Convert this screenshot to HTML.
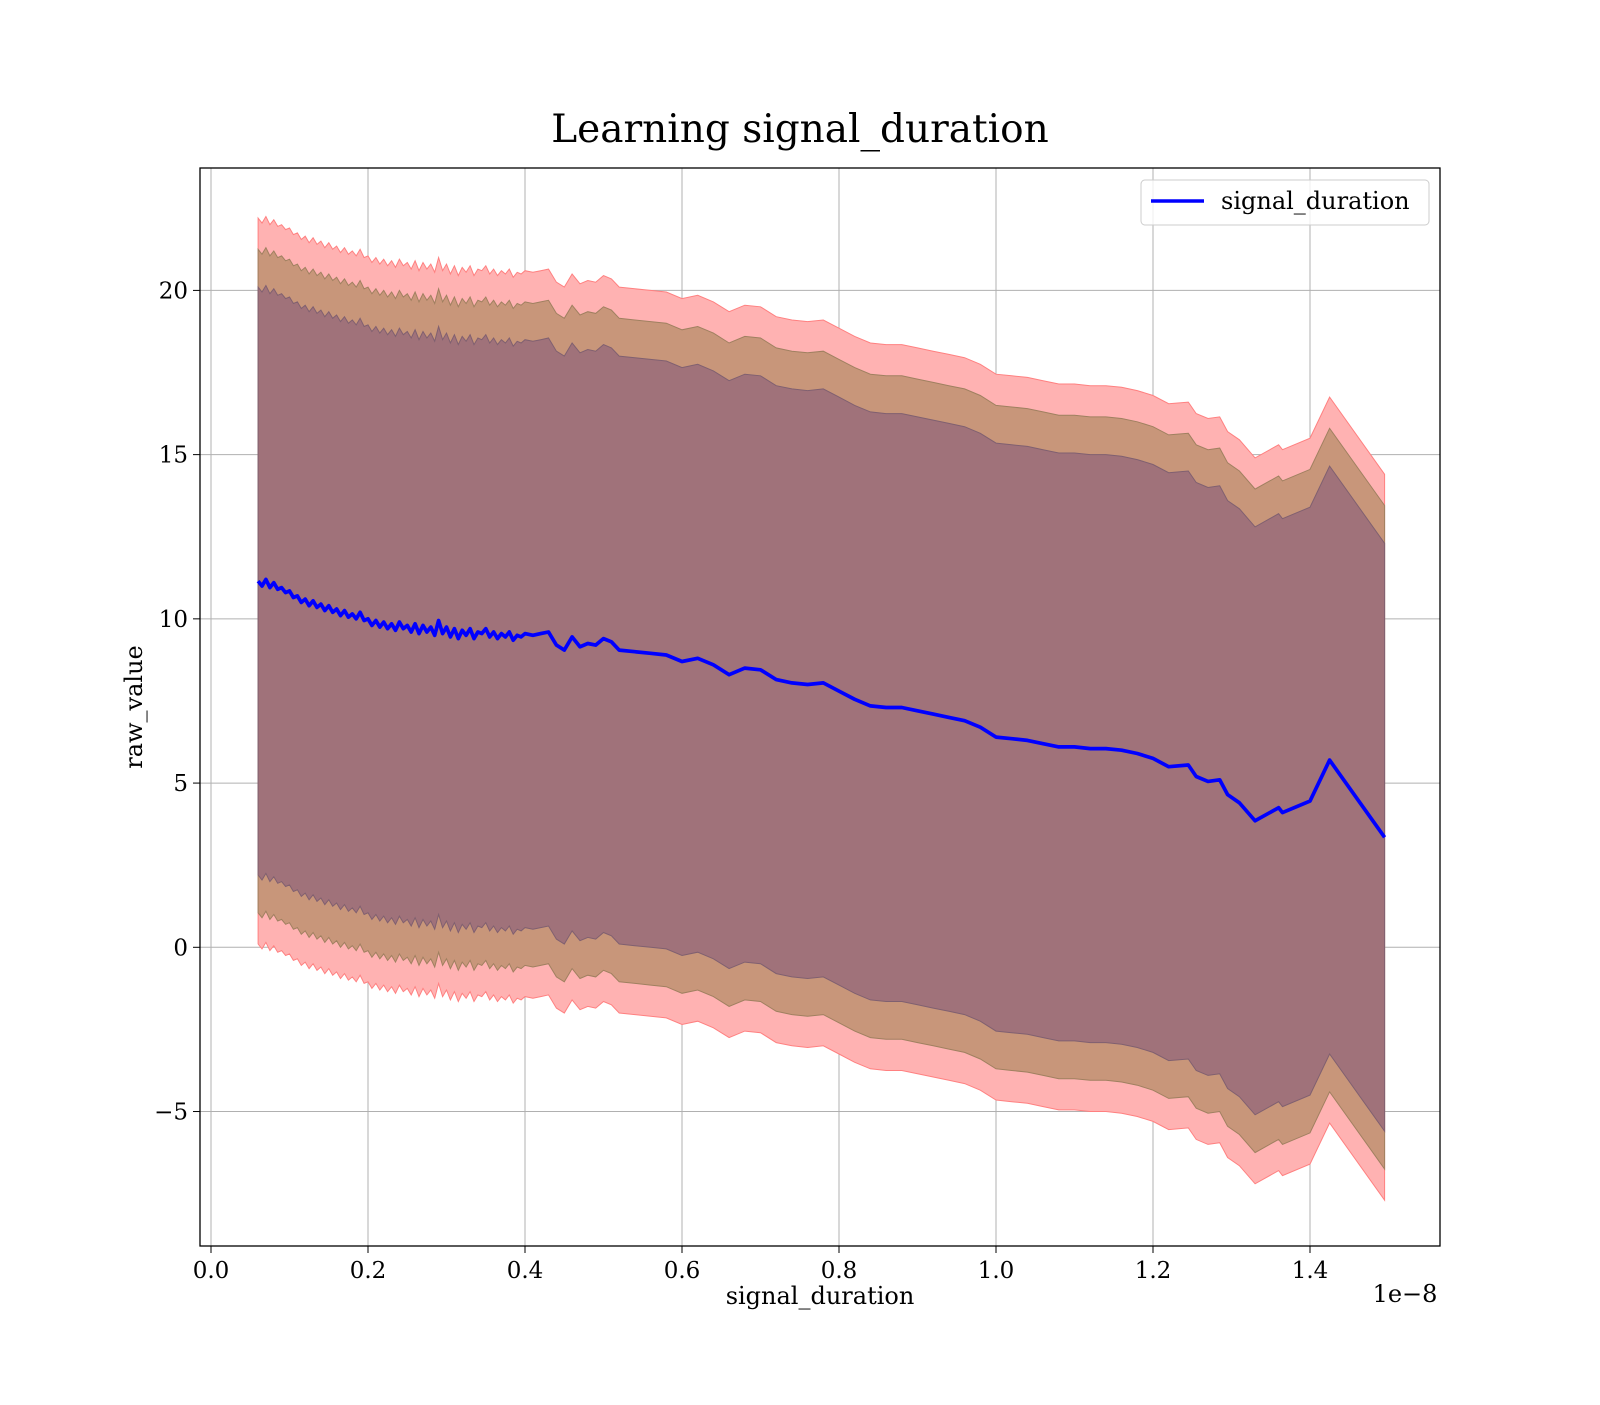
<!DOCTYPE html>
<html><head><meta charset="utf-8"><style>
html,body{margin:0;padding:0;background:#fff;}
svg text{font-family:"DejaVu Serif","Liberation Serif",serif;fill:#000;}
</style></head><body>
<svg width="1600" height="1400" viewBox="0 0 1600 1400" xmlns="http://www.w3.org/2000/svg">
<rect width="1600" height="1400" fill="#fff"/>
<text x="800" y="142" font-size="39" text-anchor="middle">Learning signal_duration</text>
<g id="grid"></g>
<g id="bands"></g>
<g id="lineg"></g>
<rect x="200" y="168" width="1240" height="1078" fill="none" stroke="#000" stroke-width="1.3"/>
<g id="ticks"></g>
<text x="820" y="1304" font-size="24" text-anchor="middle">signal_duration</text>
<text x="1405" y="1302" font-size="24" text-anchor="middle">1e−8</text>
<text transform="translate(142,707) rotate(-90)" font-size="24" text-anchor="middle">raw_value</text>
<g>
<rect x="1141" y="180" width="288" height="45" rx="4" fill="#fff" fill-opacity="0.8" stroke="#ccc"/>
<line x1="1151" y1="201" x2="1204" y2="201" stroke="#0000ff" stroke-width="3.5"/>
<text x="1221" y="209" font-size="24">signal_duration</text>
</g>
</svg>
<script>
const xs=[0.06,0.065,0.07,0.075,0.08,0.085,0.09,0.095,0.10,0.105,0.11,0.115,0.12,0.125,0.13,0.135,0.14,0.145,0.15,0.155,0.16,0.165,0.17,0.175,0.18,0.185,0.19,0.195,0.20,0.205,0.21,0.215,0.22,0.225,0.23,0.235,0.24,0.245,0.25,0.255,0.26,0.265,0.27,0.275,0.28,0.285,0.29,0.295,0.30,0.305,0.31,0.315,0.32,0.325,0.33,0.335,0.34,0.345,0.35,0.355,0.36,0.365,0.37,0.375,0.38,0.385,0.39,0.395,0.40,0.41,0.42,0.43,0.44,0.45,0.46,0.47,0.48,0.49,0.50,0.51,0.52,0.54,0.56,0.58,0.60,0.62,0.64,0.66,0.68,0.70,0.72,0.74,0.76,0.78,0.80,0.82,0.84,0.86,0.88,0.90,0.92,0.94,0.96,0.98,1.00,1.02,1.04,1.06,1.08,1.10,1.12,1.14,1.16,1.18,1.20,1.22,1.245,1.255,1.27,1.285,1.295,1.31,1.33,1.36,1.365,1.40,1.425,1.495];
const means=[11.15,11.0,11.2,10.95,11.1,10.9,10.95,10.8,10.85,10.65,10.7,10.5,10.6,10.4,10.55,10.35,10.45,10.25,10.4,10.2,10.3,10.1,10.25,10.05,10.15,10.0,10.2,9.95,10.0,9.8,9.95,9.75,9.9,9.7,9.85,9.65,9.9,9.7,9.8,9.6,9.85,9.55,9.8,9.6,9.75,9.5,9.95,9.55,9.75,9.45,9.7,9.4,9.65,9.5,9.7,9.4,9.6,9.55,9.7,9.45,9.6,9.4,9.55,9.45,9.6,9.35,9.5,9.45,9.55,9.5,9.55,9.6,9.2,9.05,9.45,9.15,9.25,9.2,9.4,9.3,9.05,9.0,8.95,8.9,8.7,8.8,8.6,8.3,8.5,8.45,8.15,8.05,8.0,8.05,7.8,7.55,7.35,7.3,7.3,7.2,7.1,7.0,6.9,6.7,6.4,6.35,6.3,6.2,6.1,6.1,6.05,6.05,6.0,5.9,5.75,5.5,5.55,5.2,5.05,5.1,4.65,4.4,3.85,4.25,4.1,4.45,5.7,3.35];
const bandWidths=[11.05,10.1,8.95];
const bandColors=['#ffb2b2','#c8967a','#a0727a'];
const bandEdges=['#ff8080','#a08060','#806070'];
const xTicks=[0.0,0.2,0.4,0.6,0.8,1.0,1.2,1.4];
const xTickLabels=['0.0','0.2','0.4','0.6','0.8','1.0','1.2','1.4'];
const yTicks=[-5,0,5,10,15,20];
const yTickLabels=['−5','0','5','10','15','20'];
const X=v=>211+v*(1310-211)/1.4;
const Y=v=>947.3-v*(947.3-290.4)/20;
const NS='http://www.w3.org/2000/svg';
function mk(t,a,p){const e=document.createElementNS(NS,t);for(const k in a)e.setAttribute(k,a[k]);p.appendChild(e);return e;}
const grid=document.getElementById('grid'),ticks=document.getElementById('ticks');
xTicks.forEach((t,i)=>{
 const g=mk('line',{x1:X(t),x2:X(t),y1:168,y2:1246,stroke:'#b0b0b0','stroke-width':1},grid);
 
 
 const tk=mk('line',{x1:X(t),x2:X(t),y1:1246,y2:1253,stroke:'#000'},ticks);
 
 
 const tx=mk('text',{x:X(t),y:1278,'font-size':23,'text-anchor':'middle'},ticks);
 tx.textContent=xTickLabels[i];
 
 
});
yTicks.forEach((t,i)=>{
 const g=mk('line',{x1:200,x2:1440,y1:Y(t),y2:Y(t),stroke:'#b0b0b0','stroke-width':1},grid);
 
 
 const tk=mk('line',{x1:193,x2:200,y1:Y(t),y2:Y(t),stroke:'#000'},ticks);
 
 
 const tx=mk('text',{x:188,y:Y(t)+8,'font-size':23,'text-anchor':'end'},ticks);
 tx.textContent=yTickLabels[i];
 
 
});
const bands=document.getElementById('bands');
bandWidths.forEach((w,b)=>{
 let d='';
 xs.forEach((x,i)=>{d+=(i?'L':'M')+X(x).toFixed(1)+','+Y(means[i]+w).toFixed(1);});
 for(let i=xs.length-1;i>=0;i--)d+='L'+X(xs[i]).toFixed(1)+','+Y(means[i]-w).toFixed(1);
 d+='Z';
 const p=mk('path',{d:d,fill:bandColors[b],stroke:bandEdges[b],'stroke-width':1},bands);
 
 
});
let ld='';
xs.forEach((x,i)=>{ld+=(i?'L':'M')+X(x).toFixed(1)+','+Y(means[i]).toFixed(1);});
const ln=mk('path',{d:ld,fill:'none',stroke:'#0000ff','stroke-width':3.7,'stroke-linejoin':'round'},document.getElementById('lineg'));


</script>
</body></html>
